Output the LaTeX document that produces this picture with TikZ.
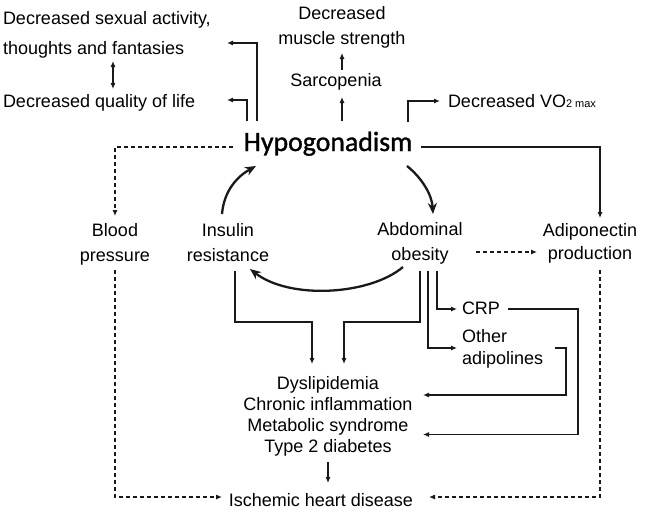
\documentclass[tikz,border=0pt]{standalone}
\usepackage{fontspec}
\setmainfont{Liberation Sans}
\newfontfamily\calfont{Carlito}[FakeBold=1.2]
\usetikzlibrary{arrows.meta}
\begin{document}
\begin{tikzpicture}[x=1pt,y=-1pt,
  every node/.style={inner sep=0pt, outer sep=0pt, font=\fontsize{18}{22}\selectfont, text=black},
  lbl/.style={anchor=base},
  lblw/.style={anchor=base west},
  conn/.style={line width=1.1pt, draw=black!90},
  arr/.style={conn, -{Latex[length=6pt,width=5pt]}},
  darr/.style={arr, dash pattern=on 4pt off 3pt},
  bigarr/.style={line width=2.3pt, draw=black!90, -{Stealth[length=11pt,width=9pt]}},
]
\useasboundingbox (0,0) rectangle (646,514);

% ---------- nodes ----------
\node[lblw] (sexA) at (3,24.5) {Decreased sexual activity,};
\node[lblw] (sexB) at (3,54) {thoughts and fantasies};
\node[lblw] (qol)  at (3,107.5) {Decreased quality of life};
\node[lbl] (dmsA) at (342,19.5) {Decreased};
\node[lbl] (dmsB) at (342,44.5) {muscle strength};
\node[lbl] (sarc) at (336,86.5) {Sarcopenia};
\node[lblw] (vo2) at (448,107.5) {Decreased VO{\fontsize{11}{11}\selectfont 2 max}};
\node[lbl, font=\calfont\fontsize{27.8}{30}\selectfont] (hypo) at (328,151) {Hypogonadism};
\node[lbl] (bp1) at (115,236.5) {Blood};
\node[lbl] (bp2) at (115,261.5) {pressure};
\node[lbl] (ir1) at (228,236.5) {Insulin};
\node[lbl] (ir2) at (228,261.5) {resistance};
\node[lbl] (ao1) at (420,235.5) {Abdominal};
\node[lbl] (ao2) at (420,260.5) {obesity};
\node[lbl] (ad1) at (590,236.5) {Adiponectin};
\node[lbl] (ad2) at (590,259.5) {production};
\node[lblw] (crp) at (462,314.5) {CRP};
\node[lblw] (oth1) at (462,342.5) {Other};
\node[lblw] (oth2) at (462,364.5) {adipolines};
\node[lbl] (dys) at (328,389) {Dyslipidemia};
\node[lbl] (chr) at (328,410) {Chronic inflammation};
\node[lbl] (met) at (328,431.5) {Metabolic syndrome};
\node[lbl] (t2d) at (328,452.5) {Type 2 diabetes};
\node[lbl] (ihd) at (321,506.5) {Ischemic heart disease};

% ---------- named connector ends ----------
\coordinate (hSex) at (257,121);
\coordinate (tSex) at (227,43);
\coordinate (hQol) at (247,121);
\coordinate (tQol) at (227,100);
\coordinate (hSar) at (342,121);
\coordinate (tSar) at (342,97);
\coordinate (sTop) at (342,70);
\coordinate (tDms) at (342,53);
\coordinate (hVo) at (408,122);
\coordinate (tVo) at (440,101);
\coordinate (hL) at (233,147);
\coordinate (tBp) at (115,216);
\coordinate (hR) at (421,147);
\coordinate (tAd) at (600,218);
\coordinate (aoR) at (476,252);
\coordinate (adL) at (537,252);
\coordinate (irTop) at (222,214);
\coordinate (hLo) at (256,166);
\coordinate (hRo) at (407,166);
\coordinate (aoTop) at (433,214);
\coordinate (aoBot) at (403,267);
\coordinate (irBot) at (250,269);

% ---------- connectors ----------
\draw[arr] (hSex) |- (tSex);
\draw[arr] (hQol) |- (tQol);
\draw[conn, {Latex[length=6pt,width=5pt]}-{Latex[length=6pt,width=5pt]}] (113,61) coordinate (dA) -- (113,89) coordinate (dB);
\draw[arr] (hSar) -- (tSar);
\draw[arr] (sTop) -- (tDms);
\draw[arr] (hVo) |- (tVo);
\draw[darr] (hL) -| (tBp);
\draw[arr] (hR) -| (tAd);
\draw[darr] (aoR) -- (adL);

\draw[bigarr] (irTop) .. controls (224,190) and (238,176) .. (hLo);
\draw[bigarr] (hRo) .. controls (422,178) and (432,195) .. (aoTop);
\draw[bigarr] (aoBot) .. controls (370,295) and (290,300) .. (irBot);

\draw[arr] (235,271) coordinate (irS) -- (235,322) -- (312,322) -- (312,364) coordinate (dysL);
\draw[arr] (420,271) coordinate (aoS1) -- (420,322) -- (344,322) -- (344,364) coordinate (dysR);
\draw[arr] (428,271) coordinate (aoS2) |- (457,348) coordinate (othT);
\draw[arr] (437,271) coordinate (aoS3) |- (457,309) coordinate (crpT);
\draw[arr] (508,309) coordinate (crpS) -- (578,309) -- (578,434.5) -- (423,434.5) coordinate (metT);
\draw[arr] (555,348) coordinate (othS) -- (566,348) -- (566,395) -- (423,395) coordinate (chrT);
\draw[arr] (328,462) coordinate (t2dS) -- (328,483) coordinate (ihdT);
\draw[darr] (115,270) coordinate (bpS) |- (222,497) coordinate (ihdL);
\draw[darr] (600,270) coordinate (adS) |- (429,497) coordinate (ihdR);
\end{tikzpicture}
\end{document}
